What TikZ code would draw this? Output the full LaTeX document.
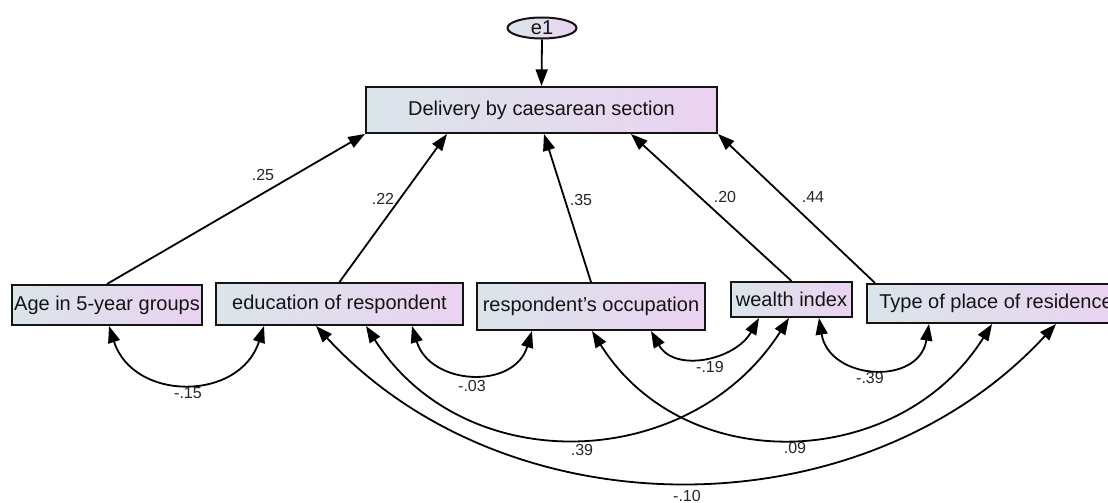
\documentclass[tikz,border=0pt]{standalone}
\usepackage{fontspec}
\setmainfont{Liberation Sans}
\usetikzlibrary{arrows.meta,shapes.geometric,calc}
\definecolor{boxL}{RGB}{218,229,234}
\definecolor{boxR}{RGB}{235,210,241}
\definecolor{edgec}{RGB}{20,20,20}
\begin{document}
\begin{tikzpicture}[x=0.75pt,y=-0.75pt,
  var/.style={draw=edgec,line width=1.5pt,left color=boxL,right color=boxR,inner sep=0pt,
    font=\fontsize{15}{18}\selectfont,text=black!92},
  err/.style={ellipse,draw=edgec,line width=1.5pt,left color=boxL,right color=boxR,inner sep=0pt,
    minimum width=51.75pt,minimum height=15.75pt,font=\fontsize{15}{18}\selectfont,text=black!92},
  tip/.style={-{Triangle[length=12.5pt,width=9pt]},line width=1.35pt,draw=black},
  cov/.style={{Triangle[length=12.5pt,width=9pt]}-{Triangle[length=12.5pt,width=9pt]},line width=1.35pt,draw=black},
  lbl/.style={font=\fontsize{12}{14}\selectfont,text=black!85,inner sep=0pt}
]
\useasboundingbox (0,0) rectangle (1108,503);
\fill[white] (0,0) rectangle (1108,503);

% nodes
\node[err] (e1) at (542,28) {e1};
\node[var,minimum width=263.25pt,minimum height=34.5pt] (dcs) at (541.5,110) {Delivery by caesarean section};
\node[var,minimum width=142.5pt,minimum height=30pt] (age) at (107,305) {Age in 5-year groups};
\node[var,minimum width=185.25pt,minimum height=31.5pt] (edu) at (339.5,304) {education of respondent};
\node[var,minimum width=171pt,minimum height=35.25pt] (occ) at (591,306.5) {respondent's occupation};
\node[var,minimum width=90.75pt,minimum height=26.25pt] (wea) at (791.5,299.5) {wealth index};
\node[var,minimum width=193.5pt,minimum height=29.25pt] (typ) at (996,303.5) {Type of place of residence};

% regression paths
\draw[tip] (e1.south) -- (dcs.north);
\draw[tip] (age.north) -- (dcs.south west);
\draw[tip] (edu.north) -- ($(dcs.south west)+(82,0)$);
\draw[tip] (occ.north) -- ($(dcs.south west)+(179,0)$);
\draw[tip] (wea.north) -- ($(dcs.south west)+(266,0)$);
\draw[tip] ($(typ.north west)+(9,0)$) -- (dcs.south east);

\node[lbl] (l25) at (263,175) {.25};
\node[lbl] (l22) at (383,199) {.22};
\node[lbl] (l35) at (581,200) {.35};
\node[lbl] (l20) at (725,197) {.20};
\node[lbl] (l44) at (813,197) {.44};

% covariance end points
\coordinate (a1) at ($(age.south west)+(98,0)$);
\coordinate (d1) at ($(edu.south west)+(49,0)$);
\coordinate (d2) at ($(edu.south west)+(101,0)$);
\coordinate (d3) at ($(edu.south west)+(151,0)$);
\coordinate (d4) at ($(edu.south west)+(197,0)$);
\coordinate (o1) at ($(occ.south west)+(56,0)$);
\coordinate (o2) at ($(occ.south west)+(116,0)$);
\coordinate (o3) at ($(occ.south west)+(175,0)$);
\coordinate (w1) at ($(wea.south west)+(29,0)$);
\coordinate (w2) at ($(wea.south west)+(59,0)$);
\coordinate (w3) at ($(wea.south west)+(89,0)$);
\coordinate (t1) at ($(typ.south west)+(63,0)$);
\coordinate (t2) at ($(typ.south west)+(126,0)$);
\coordinate (t3) at ($(typ.south west)+(190,0)$);

% covariances
\draw[cov] (a1) .. controls +(72.2:79.6) and +(107.8:79.6) .. (d1);
\draw[cov] (d4) .. controls +(73.1:62) and +(106.9:62) .. (o1);
\draw[cov] (o3) .. controls +(60.6:48.3) and +(119.4:48.3) .. (w1);
\draw[cov] (w3) .. controls +(80.8:63.2) and +(99.2:63.2) .. (t1);
\draw[cov] (d3) .. controls +(57.5:183.4) and +(122.5:183.4) .. (w2);
\draw[cov] (o2) .. controls +(57.9:174.2) and +(122.1:174.2) .. (t2);
\draw[cov] (d2) .. controls +(47.3:284) and +(132.7:284) .. (t3);

\node[lbl] (c15) at (188,393) {-.15};
\node[lbl] (c03) at (472,386) {-.03};
\node[lbl] (c19) at (710,367) {-.19};
\node[lbl] (c39n) at (870,378) {-.39};
\node[lbl] (c39) at (582,450) {.39};
\node[lbl] (c09) at (795,448) {.09};
\node[lbl] (c10) at (687,496) {-.10};
\end{tikzpicture}
\end{document}
